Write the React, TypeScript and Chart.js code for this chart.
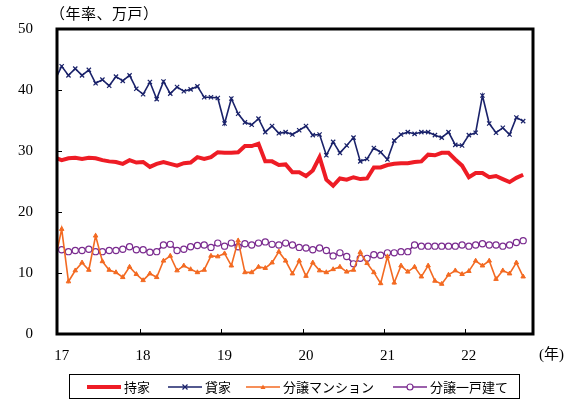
import React, { useEffect, useRef } from 'react';
import { Chart, registerables } from 'chart.js';

Chart.register(...registerables);

// Monthly data, Dec 2016 (index 0, mostly hidden at the left edge) through Sep 2022
const YEAR_LABELS = ['17', '18', '19', '20', '21', '22'];
const Y_TICKS = [0, 10, 20, 30, 40, 50];

const mochiie = [
  28.9,
  28.5, 28.8, 28.9, 28.7, 28.9, 28.8, 28.5, 28.3, 28.2, 27.9, 28.5, 28.1,
  28.2, 27.4, 27.9, 28.2, 27.9, 27.6, 28.0, 28.1, 29.0, 28.7, 29.0, 29.8,
  29.7, 29.7, 29.8, 30.8, 30.8, 31.2, 28.3, 28.3, 27.7, 27.8, 26.5, 26.5,
  25.9, 26.8, 29.0, 25.3, 24.3, 25.5, 25.3, 25.7, 25.4, 25.5, 27.3, 27.3,
  27.7, 27.9, 28.0, 28.0, 28.2, 28.3, 29.4, 29.3, 29.7, 29.7, 28.6, 27.6,
  25.7, 26.4, 26.4, 25.7, 25.9, 25.4, 24.9, 25.6, 26.1,
];

const kashiya = [
  41.6,
  43.9, 42.4, 43.5, 42.4, 43.3, 41.1, 41.7, 40.7, 42.2, 41.5, 42.4, 40.2,
  39.3, 41.3, 38.5, 41.4, 39.4, 40.5, 39.8, 40.1, 40.6, 38.8, 38.8, 38.7,
  34.5, 38.6, 36.1, 34.7, 34.3, 35.3, 33.1, 34.1, 32.9, 33.1, 32.7, 33.4,
  34.1, 32.6, 32.7, 29.3, 31.5, 29.7, 30.9, 32.2, 28.3, 28.7, 30.5, 29.8,
  28.6, 31.7, 32.7, 33.1, 32.8, 33.1, 33.1, 32.6, 32.2, 33.1, 31.0, 30.9,
  32.6, 33.0, 39.1, 34.5, 33.0, 33.8, 32.7, 35.5, 34.9,
];

const mansion = [
  12.0,
  17.2, 8.6, 10.4, 11.7, 10.5, 16.1, 11.9, 10.5, 10.1, 9.3, 11.0, 9.8,
  8.8, 9.9, 9.3, 12.0, 12.8, 10.4, 11.2, 10.6, 10.1, 10.5, 12.8, 12.7,
  13.2, 11.2, 15.3, 10.1, 10.1, 11.0, 10.8, 11.7, 13.5, 12.0, 9.9, 12.0,
  9.5, 11.7, 10.4, 10.1, 10.6, 11.0, 10.2, 10.5, 13.4, 11.6, 10.1, 8.3,
  12.7, 8.4, 11.2, 10.2, 11.0, 9.4, 11.2, 8.7, 8.2, 9.7, 10.4, 9.8,
  10.3, 12.0, 11.2, 12.0, 9.0, 10.4, 9.9, 11.7, 9.4,
];

const kodate = [
  13.8,
  13.8, 13.5, 13.7, 13.7, 13.9, 13.5, 13.5, 13.7, 13.7, 13.9, 14.3, 13.8,
  13.8, 13.4, 13.5, 14.6, 14.7, 13.7, 13.9, 14.3, 14.5, 14.6, 14.2, 14.9,
  14.4, 14.9, 14.3, 14.8, 14.6, 14.9, 15.1, 14.7, 14.6, 14.9, 14.6, 14.2,
  14.1, 13.8, 14.1, 13.7, 12.8, 13.3, 12.7, 11.5, 12.4, 12.4, 13.0, 12.9,
  13.3, 13.3, 13.5, 13.5, 14.6, 14.4, 14.4, 14.4, 14.4, 14.4, 14.4, 14.6,
  14.4, 14.6, 14.8, 14.6, 14.6, 14.4, 14.6, 15.0, 15.3,
];

const SERIES_NAMES = ['持家', '貸家', '分譲マンション', '分譲一戸建て'];
const RED = '#ee1c25';
const NAVY = '#1a226a';
const ORANGE = '#f36a22';
const PURPLE = '#7a2b8f';

const toPts = (arr: number[]) => arr.map((v, i) => ({ x: i - 1, y: v }));

function LegendSample({ kind }: { kind: number }) {
  const colors = [RED, NAVY, ORANGE, PURPLE];
  const c = colors[kind];
  return (
    <svg width={34} height={12} style={{ display: 'block' }}>
      <line x1={0} y1={6} x2={34} y2={6} stroke={c} strokeWidth={kind === 0 ? 4 : 1.5} />
      {kind === 1 && (
        <g stroke={c} strokeWidth={1.3}>
          <line x1={14.5} y1={3.5} x2={19.5} y2={8.5} />
          <line x1={19.5} y1={3.5} x2={14.5} y2={8.5} />
        </g>
      )}
      {kind === 2 && <polygon points="17,3.5 19.5,8 14.5,8" fill={c} />}
      {kind === 3 && <circle cx={17} cy={6} r={3} fill="#fff" stroke={c} strokeWidth={1.2} />}
    </svg>
  );
}

export default function App() {
  const ref = useRef<HTMLCanvasElement>(null);

  useEffect(() => {
    if (!ref.current) return;
    const framePlugin = {
      id: 'frame',
      afterDatasetsDraw(chart: any) {
        const { ctx, chartArea, scales } = chart;
        const { left, top, right, bottom } = chartArea;
        const x = scales.x;
        const y = scales.y;
        ctx.save();
        ctx.strokeStyle = '#000';
        ctx.lineWidth = 1;
        ctx.beginPath();
        for (let k = 1; k < YEAR_LABELS.length; k++) {
          const px = Math.round(x.getPixelForValue(k * 12 - 0.5)) + 0.5;
          ctx.moveTo(px, bottom);
          ctx.lineTo(px, bottom - 5);
        }
        for (const v of Y_TICKS.slice(1, -1)) {
          const py = Math.round(y.getPixelForValue(v)) + 0.5;
          ctx.moveTo(left, py);
          ctx.lineTo(left + 5, py);
        }
        ctx.stroke();
        ctx.lineWidth = 3;
        ctx.strokeRect(left, top, right - left, bottom - top);
        ctx.restore();
      },
    };

    const hideFirst = (r: number) => (ctx: any) => (ctx.dataIndex === 0 ? 0 : r);

    const chart = new Chart(ref.current, {
      type: 'line',
      data: {
        datasets: [
          {
            label: SERIES_NAMES[0],
            data: toPts(mochiie),
            borderColor: RED,
            backgroundColor: RED,
            borderWidth: 4,
            pointRadius: 0,
            tension: 0,
          },
          {
            label: SERIES_NAMES[1],
            data: toPts(kashiya),
            borderColor: NAVY,
            backgroundColor: NAVY,
            borderWidth: 1.6,
            pointStyle: 'crossRot',
            pointRadius: hideFirst(3),
            pointBorderWidth: 1.2,
            tension: 0,
          },
          {
            label: SERIES_NAMES[2],
            data: toPts(mansion),
            borderColor: ORANGE,
            backgroundColor: ORANGE,
            borderWidth: 1.6,
            pointStyle: 'triangle',
            pointRadius: hideFirst(2.6),
            pointBorderWidth: 1,
            tension: 0,
          },
          {
            label: SERIES_NAMES[3],
            data: toPts(kodate),
            borderColor: PURPLE,
            backgroundColor: '#ffffff',
            borderWidth: 1.6,
            pointStyle: 'circle',
            pointRadius: hideFirst(3.1),
            pointBorderWidth: 1.2,
            tension: 0,
          },
        ],
      },
      options: {
        animation: false,
        responsive: false,
        layout: { padding: { top: 29, right: 33, left: 0, bottom: 0 } },
        plugins: { legend: { display: false }, tooltip: { enabled: false } },
        scales: {
          x: {
            type: 'linear',
            min: -0.69,
            max: 69.45,
            grid: { display: false, drawTicks: false },
            border: { display: false },
            afterBuildTicks: (s: any) => {
              s.ticks = YEAR_LABELS.map((_, i) => ({ value: i * 12 }));
            },
            afterFit: (s: any) => {
              s.height = 72;
              s.paddingLeft = 0;
              s.paddingRight = 0;
            },
            ticks: {
              autoSkip: false,
              maxRotation: 0,
              padding: 13,
              color: '#000',
              font: { family: 'Liberation Serif', size: 15 },
              callback: (_v: any, i: number) => YEAR_LABELS[i],
            },
          },
          y: {
            type: 'linear',
            min: 0,
            max: 50,
            grid: { display: false, drawTicks: false },
            border: { display: false },
            afterBuildTicks: (s: any) => {
              s.ticks = Y_TICKS.map((v) => ({ value: v }));
            },
            afterFit: (s: any) => {
              s.width = 57;
              s.paddingTop = 0;
              s.paddingBottom = 0;
            },
            ticks: {
              padding: 24,
              color: '#000',
              font: { family: 'Liberation Serif', size: 15 },
            },
          },
        },
      },
      plugins: [framePlugin],
    });
    return () => chart.destroy();
  }, []);

  const legendLeft = [17, 98, 176, 323];

  return (
    <div style={{ position: 'fixed', left: 0, top: 0, width: 566, height: 406, background: '#fff' }}>
      <canvas ref={ref} width={566} height={406} style={{ position: 'absolute', left: 0, top: 0 }} />
      <div
        style={{
          position: 'absolute',
          left: 50,
          top: 4,
          fontFamily: "'Noto Sans CJK JP', sans-serif",
          fontSize: 15,
          letterSpacing: 0.5,
          lineHeight: '17px',
          color: '#000',
          whiteSpace: 'nowrap',
        }}
      >
        （年率、万戸）
      </div>
      <div
        style={{
          position: 'absolute',
          left: 539,
          top: 345,
          fontFamily: "'Liberation Serif', 'Noto Sans CJK JP', serif",
          fontSize: 15,
          lineHeight: '18px',
          color: '#000',
          whiteSpace: 'nowrap',
        }}
      >
        (年)
      </div>
      <div
        style={{
          position: 'absolute',
          left: 69,
          top: 374,
          width: 451,
          height: 25,
          border: '1px solid #000',
          boxSizing: 'border-box',
        }}
      >
        {SERIES_NAMES.map((name, i) => (
          <div
            key={name}
            style={{
              position: 'absolute',
              left: legendLeft[i],
              top: 0,
              height: 23,
              display: 'flex',
              alignItems: 'center',
              whiteSpace: 'nowrap',
            }}
          >
            <LegendSample kind={i} />
            <span
              style={{
                marginLeft: 3,
                fontFamily: "'Noto Sans CJK JP', sans-serif",
                fontSize: 13,
                lineHeight: '15px',
                color: '#000',
              }}
            >
              {name}
            </span>
          </div>
        ))}
      </div>
    </div>
  );
}
